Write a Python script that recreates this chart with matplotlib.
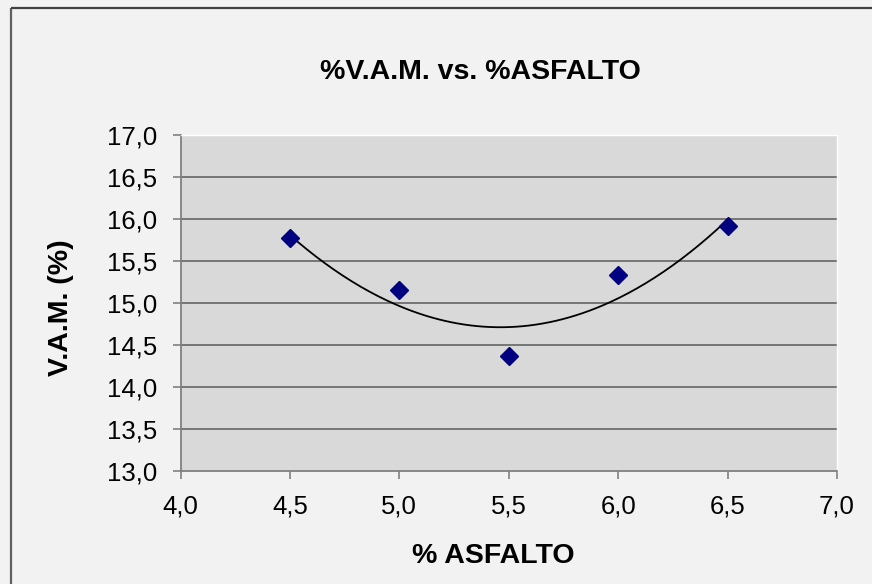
import numpy as np
import matplotlib
matplotlib.use('Agg')
import matplotlib.pyplot as plt
from matplotlib.lines import Line2D
from matplotlib.ticker import FuncFormatter

plt.rcParams['font.family'] = ['Liberation Sans', 'DejaVu Sans']

# % asfalto vs % V.A.M.
asfalto = [4.5, 5.0, 5.5, 6.0, 6.5]
vam = [15.77, 15.15, 14.36, 15.33, 15.91]

x_ticks = [4.0, 4.5, 5.0, 5.5, 6.0, 6.5, 7.0]
y_ticks = [13.0, 13.5, 14.0, 14.5, 15.0, 15.5, 16.0, 16.5, 17.0]

W, H = 872, 584
fig = plt.figure(figsize=(W / 100, H / 100), dpi=100, facecolor='#f2f2f2')
fig.patch.set_edgecolor('none')
fig.patch.set_linewidth(0)

# chart border, only the left and top edges fall inside the image
bx, by = 10.5 / W, 1 - 7.5 / H
fig.lines.append(Line2D([bx, bx], [-0.05, by], transform=fig.transFigure,
                        color='#606060', linewidth=1.6, solid_capstyle='butt'))
fig.lines.append(Line2D([bx, 1.05], [by, by], transform=fig.transFigure,
                        color='#404040', linewidth=1.6, solid_capstyle='butt'))

ax = fig.add_axes([180.5 / W, (H - 470.5) / H, (837 - 180.5) / W, (470.5 - 135) / H])
ax.set_facecolor('#d9d9d9')

for y in y_ticks[1:]:
    ax.axhline(y, color='#6e6e6e', linewidth=1.3, zorder=1)

# 2nd order polynomial trend line
coef = np.polyfit(asfalto, vam, 2)
xs = np.linspace(min(asfalto), max(asfalto), 200)
ax.plot(xs, np.polyval(coef, xs), color='black', linewidth=1.3, zorder=2)

ax.plot(asfalto, vam, linestyle='none', marker='D', markersize=9,
        color='#000080', zorder=3)

ax.set_xlim(4.0, 7.0)
ax.set_ylim(13.0, 17.0)
ax.set_xticks(x_ticks)
ax.set_yticks(y_ticks)
fmt = FuncFormatter(lambda v, p: f'{v:.1f}'.replace('.', ','))
ax.xaxis.set_major_formatter(fmt)
ax.yaxis.set_major_formatter(fmt)

for side in ['left', 'bottom']:
    ax.spines[side].set_color('#808080')
    ax.spines[side].set_linewidth(1.3)
for side in ['top', 'right']:
    ax.spines[side].set_color('white')
    ax.spines[side].set_linewidth(1.0)

ax.tick_params(axis='both', direction='out', length=6, width=1.2, color='#808080',
               labelsize=18.5, labelcolor='black')
ax.tick_params(axis='y', pad=11)
ax.tick_params(axis='x', pad=11)

fig.text(480 / W, 1 - 72 / H, '%V.A.M. vs. %ASFALTO', ha='center', va='center',
         fontsize=20.5, fontweight='bold')
fig.text(493 / W, 1 - 556 / H, '% ASFALTO', ha='center', va='center',
         fontsize=20.5, fontweight='bold')
fig.text(61 / W, 1 - 308 / H, 'V.A.M. (%)', ha='center', va='center',
         rotation=90, fontsize=20.5, fontweight='bold')

fig.savefig('out.png', dpi=100, facecolor=fig.get_facecolor(), edgecolor='none')
